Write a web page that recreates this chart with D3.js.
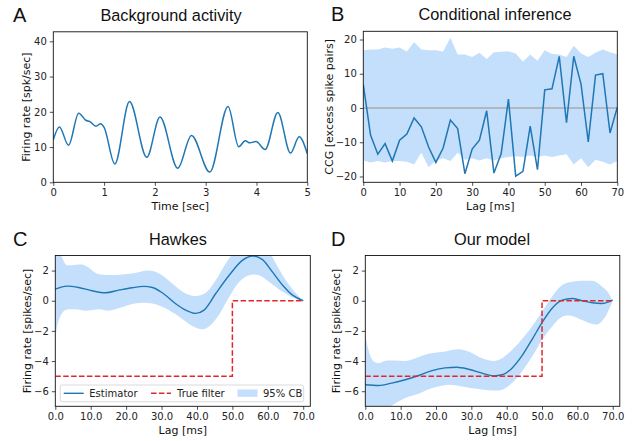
<!DOCTYPE html>
<html>
<head>
<meta charset="utf-8">
<script src="https://cdn.jsdelivr.net/npm/d3@7"></script>
<style>
  body { margin: 0; background: #fff; }
  svg { display: block; }
  .tick text { font-family: "DejaVu Sans", sans-serif; font-size: 10px; fill: #222; }
  .axlabel { font-family: "DejaVu Sans", sans-serif; font-size: 11px; fill: #111; }
  .title { font-family: "Liberation Sans", Arial, sans-serif; font-size: 16.3px; fill: #111; }
  .letter { font-family: "Liberation Sans", Arial, sans-serif; font-size: 20px; fill: #111; }
  .legtext { font-family: "DejaVu Sans", sans-serif; font-size: 10px; fill: #222; }
</style>
</head>
<body>
<svg id="chart" width="635" height="441"></svg>
<script>
// ---------- Panel A: background activity ----------
const aTime = [0, 0.12, 0.3, 0.5, 0.64, 0.72, 0.84, 0.93, 1.0, 1.21, 1.5, 1.84, 2.1, 2.45, 2.72, 3.08, 3.44, 3.65, 3.78, 3.87, 3.99, 4.17, 4.42, 4.67, 4.84, 5.0];
const aRate = [12.1, 15.7, 10.5, 19.6, 17.6, 17.2, 15.9, 16.6, 15.6, 5.2, 22.9, 7.1, 18.5, 4.0, 13.3, 2.9, 21.5, 10.1, 11.8, 11.2, 11.6, 9.3, 19.8, 8.3, 12.9, 8.1];
const aXTicks = [0, 1, 2, 3, 4, 5];
const aYTicks = [0, 10, 20, 30, 40];

// ---------- Panel B: conditional inference ----------
const bLag = [0, 2, 4, 6, 8, 10, 12, 14, 16, 18, 20, 22, 24, 26, 28, 30, 32, 34, 36, 38, 40, 42, 44, 46, 48, 50, 52, 54, 56, 58, 60, 62, 64, 66, 68, 70];
const bCCG = [6.8, -7.9, -13.5, -10.4, -15.5, -9.4, -7.6, -2.9, -5.5, -11.4, -15.9, -11.7, -3.5, -6.0, -19.2, -12.0, -9.4, -0.8, -19.0, -13.3, 2.6, -19.9, -18.5, -5.3, -18.0, 5.3, 5.6, 15.1, -4.3, 15.1, 7.0, -9.9, 9.6, 10.0, -7.3, 0.2];
const bUpper = [16.9, 17.1, 17.1, 17.7, 17.3, 17.7, 16.5, 19.2, 17.1, 16.9, 16.9, 16.5, 20.5, 15.6, 15.6, 14.9, 16.1, 14.3, 16.3, 16.4, 16.6, 15.9, 13.5, 15.6, 13.8, 16.9, 15.8, 15.6, 14.9, 18.2, 15.9, 14.9, 16.1, 17.1, 16.3, 15.6];
const bLower = [-15.3, -15.9, -15.5, -15.9, -15.5, -15.5, -15.7, -16.5, -13.1, -17.3, -15.3, -14.7, -15.5, -13.1, -15.1, -14.7, -15.3, -14.7, -15.3, -14.7, -14.3, -14.1, -14.3, -13.9, -14.3, -13.9, -14.3, -13.9, -13.5, -16.5, -14.7, -17.3, -15.1, -15.7, -16.5, -15.5];
const bXTicks = [0, 10, 20, 30, 40, 50, 60, 70];
const bYTicks = [-20, -10, 0, 10, 20];

// ---------- Panel C: Hawkes ----------
const cEstLag = [0, 3.3, 6.6, 10.4, 14.2, 17.9, 21.7, 25, 27.4, 30.2, 33.9, 36.8, 39.6, 42, 45.3, 49.1, 52.8, 55.7, 58.5, 61.3, 64.2, 67, 70];
const cEst = [0.77, 0.97, 0.88, 0.66, 0.53, 0.70, 0.86, 0.95, 0.88, 0.53, -0.18, -0.62, -0.84, -0.62, 0.48, 1.69, 2.68, 2.97, 2.73, 1.91, 1.03, 0.37, 0];
const cUpLag = [0, 1.4, 3.3, 7.5, 12.3, 16.0, 21.7, 26.4, 29.3, 33.0, 36.8, 39.6, 42.5, 45.3, 48.1, 50.5, 55.7, 60.4, 62.3, 65.1, 68.0, 70];
const cUp = [3.6, 3.1, 2.35, 2.4, 1.76, 1.7, 1.8, 2.0, 1.8, 1.14, 0.48, 0.31, 0.53, 1.36, 2.46, 3.2, 3.6, 3.2, 2.46, 1.36, 0.48, 0];
const cLoLag = [0, 0.5, 1.4, 2.8, 5.7, 8.5, 12.3, 15.1, 17.9, 21.7, 24.5, 27.4, 31.1, 34.9, 38.7, 41.5, 43.4, 46.2, 49.1, 51.9, 54.7, 57.5, 60.4, 64.2, 67.0, 70];
const cLo = [-2.7, -1.7, -1.05, -0.62, -0.57, -0.66, -0.57, -0.66, -0.5, -0.22, -0.13, -0.18, -0.5, -1.05, -1.67, -1.89, -1.71, -0.95, 0.26, 1.25, 1.69, 1.69, 1.25, 0.59, 0.22, 0];

// ---------- Panel D: our model ----------
const dEstLag = [0, 3.8, 7.5, 11.3, 15.1, 18.9, 22.6, 25.9, 29.2, 33, 36.3, 38.7, 41.5, 44.3, 47.2, 50, 52.8, 55.7, 58.5, 61.3, 64.2, 67, 68.9, 70];
const dEst = [-5.57, -5.62, -5.46, -5.24, -4.96, -4.63, -4.45, -4.41, -4.54, -4.8, -4.98, -4.91, -4.47, -3.66, -2.56, -1.45, -0.51, 0.04, 0.15, 0, -0.13, -0.18, -0.07, 0.04];
const dUpLag = [0, 0.9, 2.4, 3.8, 6.1, 8.5, 11.3, 14.2, 17.9, 22.6, 26.4, 29.2, 33.0, 36.3, 38.7, 41.5, 45.3, 49.1, 52.8, 55.7, 58.5, 61.3, 64.2, 67.0, 68.9, 70];
const dUp = [-2.27, -3.26, -4.03, -4.14, -3.96, -3.96, -4.0, -3.81, -3.52, -3.37, -3.22, -3.37, -3.81, -3.99, -3.81, -3.26, -2.27, -1.06, 0.26, 1.04, 1.26, 1.32, 1.32, 0.93, 0.48, 0];
const dLoLag = [0, 3.8, 7.5, 11.3, 15.1, 18.9, 23.6, 27.4, 32.1, 35.8, 38.7, 41.5, 44.3, 47.2, 50, 52.8, 55.7, 58.5, 61.3, 64.2, 66.0, 67.9, 70];
const dLo = [-7.6, -7.3, -6.94, -6.45, -6.17, -5.79, -5.57, -5.68, -5.86, -5.95, -5.9, -5.46, -4.69, -3.7, -2.6, -1.72, -1.06, -1.01, -1.28, -1.54, -1.54, -1.06, 0];

// True filter (C and D)
const trueLag = [0, 50, 50, 70];
const trueVal = [-5, -5, 0, 0];

const cdXTicks = [0, 10, 20, 30, 40, 50, 60, 70];
const cdYTicks = [2, 0, -2, -4, -6];

const legendLabels = ["Estimator", "True filter", "95% CB"];
const titles = ["Background activity", "Conditional inference", "Hawkes", "Our model"];
const letters = ["A", "B", "C", "D"];

// ---------- styles ----------
const BLUE = "#1f77b4";
const BAND = "#c3dffb";
const RED = "#e3262a";

const svg = d3.select("#chart");
const minus = s => String(s).replace("-", "\u2212");

function panel(opts) {
  const g = svg.append("g");
  const x = d3.scaleLinear().domain(opts.xd).range(opts.xr);
  const y = d3.scaleLinear().domain(opts.yd).range(opts.yr);
  const id = "clip" + opts.letter;
  svg.append("clipPath").attr("id", id).append("rect")
    .attr("x", opts.xr[0]).attr("y", opts.yr[1])
    .attr("width", opts.xr[1] - opts.xr[0]).attr("height", opts.yr[0] - opts.yr[1]);
  const plot = g.append("g").attr("clip-path", `url(#${id})`);

  const xa = g.append("g").attr("transform", `translate(0,${opts.yr[0]})`)
    .call(d3.axisBottom(x).tickValues(opts.xt).tickSize(3.5).tickPadding(3).tickFormat(opts.xf));
  const ya = g.append("g").attr("transform", `translate(${opts.xr[0]},0)`)
    .call(d3.axisLeft(y).tickValues(opts.yt).tickSize(3.5).tickPadding(3).tickFormat(d => minus(d)));
  [xa, ya].forEach(a => {
    a.select(".domain").remove();
    a.selectAll(".tick line").attr("stroke", "#222").attr("stroke-width", 0.8);
  });
  g.append("rect").attr("x", opts.xr[0]).attr("y", opts.yr[1])
    .attr("width", opts.xr[1] - opts.xr[0]).attr("height", opts.yr[0] - opts.yr[1])
    .attr("fill", "none").attr("stroke", "#111").attr("stroke-width", 0.9);

  const cx = (opts.xr[0] + opts.xr[1]) / 2;
  g.append("text").attr("class", "title").attr("x", opts.titleX).attr("y", opts.yr[1] - 11)
    .attr("text-anchor", "middle").text(opts.title);
  g.append("text").attr("class", "letter").attr("x", opts.letterX).attr("y", opts.yr[1] - 10)
    .text(opts.letter);
  g.append("text").attr("class", "axlabel").attr("x", cx).attr("y", opts.yr[0] + 28)
    .attr("text-anchor", "middle").text(opts.xlabel);
  const cy = (opts.yr[0] + opts.yr[1]) / 2;
  g.append("text").attr("class", "axlabel")
    .attr("transform", `translate(${opts.ylabelX},${cy}) rotate(-90)`)
    .attr("text-anchor", "middle").attr("dy", "0.35em").text(opts.ylabel);
  return { g, plot, x, y };
}

// Panel A
{
  const p = panel({ letter: letters[0], title: titles[0], titleX: 171, xd: [0, 5], xr: [53.3, 307.3], yd: [0, 42.7], yr: [182.3, 31.8],
    xt: aXTicks, yt: aYTicks, xf: d => d, xlabel: "Time [sec]", ylabel: "Firing rate [spk/sec]", ylabelX: 26, letterX: 13 });
  const line = d3.line().x((d, i) => p.x(aTime[i])).y(d => p.y(d)).curve(d3.curveMonotoneX);
  p.plot.append("path").attr("d", line(aRate)).attr("fill", "none").attr("stroke", BLUE).attr("stroke-width", 1.5);
}

// Panel B
{
  const p = panel({ letter: letters[1], title: titles[1], titleX: 495, xd: [0, 70], xr: [363.3, 617.3], yd: [-21.7, 22.4], yr: [182.3, 31.3],
    xt: bXTicks, yt: bYTicks, xf: d => d, xlabel: "Lag [ms]", ylabel: "CCG [excess spike pairs]", ylabelX: 329, letterX: 331 });
  const area = d3.area().x((d, i) => p.x(bLag[i])).y0((d, i) => p.y(bLower[i])).y1(d => p.y(d));
  p.plot.append("path").attr("d", area(bUpper)).attr("fill", BAND);
  p.plot.append("line").attr("x1", p.x(0)).attr("x2", p.x(70)).attr("y1", p.y(0)).attr("y2", p.y(0))
    .attr("stroke", "#aaa").attr("stroke-width", 1.5);
  const line = d3.line().x((d, i) => p.x(bLag[i])).y(d => p.y(d));
  p.plot.append("path").attr("d", line(bCCG)).attr("fill", "none").attr("stroke", BLUE).attr("stroke-width", 1.5);
}

function bandArea(p, upLag, up, loLag, lo) {
  const upPts = upLag.map((l, i) => [p.x(l), p.y(up[i])]);
  const loPts = loLag.map((l, i) => [p.x(l), p.y(lo[i])]).reverse();
  const upPath = d3.line().curve(d3.curveMonotoneX)(upPts);
  const loPath = d3.line().curve(d3.curveCatmullRom.alpha(0.5))(loPts);
  return upPath + "L" + loPath.slice(1) + "Z";
}

function cdPanel(idx, xr, titleX, ylabelX, letterX, est, estLag, upLag, up, loLag, lo, legend) {
  const p = panel({ letter: letters[idx], title: titles[idx], titleX: titleX, xd: [0, 72], xr: xr, yd: [-7, 3], yr: [406.3, 255.5],
    xt: cdXTicks, yt: cdYTicks, xf: d => d.toFixed(1), xlabel: "Lag [ms]", ylabel: "Firing rate [spikes/sec]", ylabelX: ylabelX, letterX: letterX });
  p.plot.append("path").attr("d", bandArea(p, upLag, up, loLag, lo)).attr("fill", BAND);
  const line = d3.line().x((d, i) => p.x(estLag[i])).y(d => p.y(d)).curve(d3.curveMonotoneX);
  p.plot.append("path").attr("d", line(est)).attr("fill", "none").attr("stroke", BLUE).attr("stroke-width", 1.4);
  const tline = d3.line().x((d, i) => p.x(trueLag[i])).y(d => p.y(d));
  p.plot.append("path").attr("d", tline(trueVal)).attr("fill", "none").attr("stroke", RED)
    .attr("stroke-width", 1.5).attr("stroke-dasharray", "5.5,2.4");
  if (legend) {
    const lg = p.g.append("g");
    lg.append("rect").attr("x", 60.3).attr("y", 385).attr("width", 243.4).attr("height", 16.7).attr("rx", 2)
      .attr("fill", "white").attr("fill-opacity", 0.8).attr("stroke", "#d0d0d0").attr("stroke-width", 0.8);
    const yc = 393.3;
    lg.append("line").attr("x1", 63.7).attr("x2", 83.7).attr("y1", yc).attr("y2", yc).attr("stroke", BLUE).attr("stroke-width", 1.4);
    lg.append("text").attr("class", "legtext").attr("x", 89.3).attr("y", yc).attr("dy", "0.35em").text(legendLabels[0]);
    lg.append("line").attr("x1", 151).attr("x2", 171).attr("y1", yc).attr("y2", yc).attr("stroke", RED)
      .attr("stroke-width", 1.5).attr("stroke-dasharray", "5.5,2.4");
    lg.append("text").attr("class", "legtext").attr("x", 177).attr("y", yc).attr("dy", "0.35em").text(legendLabels[1]);
    lg.append("rect").attr("x", 237.5).attr("y", yc - 3.8).attr("width", 20).attr("height", 7.3).attr("fill", BAND);
    lg.append("text").attr("class", "legtext").attr("x", 263).attr("y", yc).attr("dy", "0.35em").text(legendLabels[2]);
  }
}

cdPanel(2, [55.3, 310.3], 178, 26.7, 13, cEst, cEstLag, cUpLag, cUp, cLoLag, cLo, true);
cdPanel(3, [365.3, 619.8], 492, 336.5, 331, dEst, dEstLag, dUpLag, dUp, dLoLag, dLo, false);
</script>
</body>
</html>
